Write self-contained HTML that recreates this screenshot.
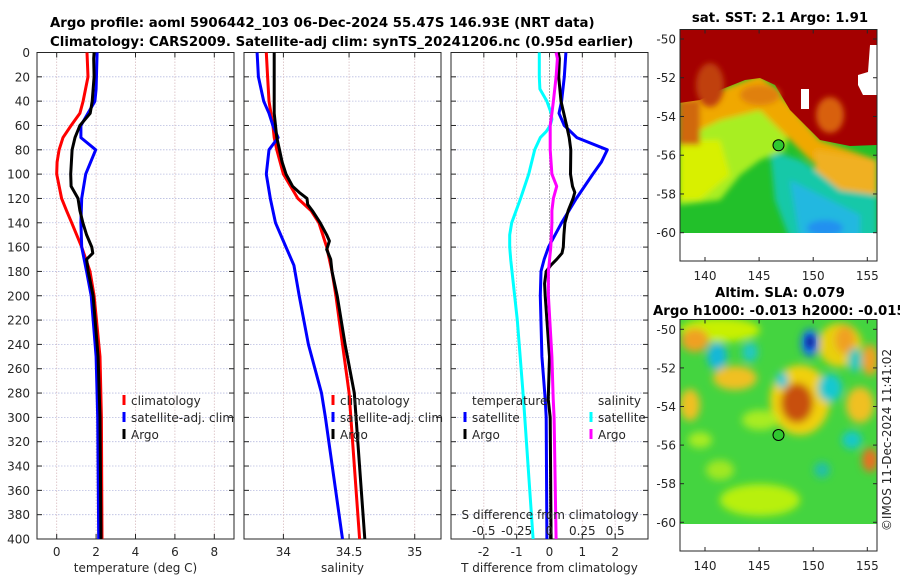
<!DOCTYPE html>
<html><head><meta charset="utf-8">
<style>
html,body{margin:0;padding:0;background:#fff;}
svg{display:block;font-family:"DejaVu Sans","Liberation Sans",sans-serif;}
.tk{font-size:12px;fill:#262626;}
.tt{font-size:13.3px;font-weight:bold;fill:#000;}
</style></head>
<body>
<svg id="fig" width="900" height="580" viewBox="0 0 900 580" xmlns="http://www.w3.org/2000/svg">
<defs>
<filter id="blur3" x="-20%" y="-20%" width="140%" height="140%"><feGaussianBlur stdDeviation="3"/></filter>
<filter id="blur6" x="-50%" y="-50%" width="200%" height="200%"><feGaussianBlur stdDeviation="4"/></filter>
<clipPath id="clipTop"><rect x="680" y="29" width="197" height="204"/></clipPath>
<clipPath id="clipBot"><rect x="680" y="319" width="197" height="205"/></clipPath>
<clipPath id="cp1"><rect x="37" y="52" width="197" height="487"/></clipPath>
<clipPath id="cp2"><rect x="244" y="52" width="197" height="487"/></clipPath>
<clipPath id="cp3"><rect x="451" y="52" width="197" height="487"/></clipPath>
</defs>
<text class="tt" x="50" y="27">Argo profile: aoml 5906442_103 06-Dec-2024 55.47S 146.93E (NRT data)</text>
<text class="tt" x="50" y="46">Climatology: CARS2009. Satellite-adj clim: synTS_20241206.nc (0.95d earlier)</text>

<!-- SST map -->
<g>
<g clip-path="url(#clipTop)">
<rect x="680" y="29" width="197" height="204" fill="#22c02a"/>
<g filter="url(#blur3)">
<polygon points="770,150 800,160 840,185 877,195 877,240 790,240 775,200" fill="#18c8a8"/>
<polygon points="790,180 830,200 860,215 860,240 800,240" fill="#20b8e0"/>
<ellipse cx="825" cy="228" rx="18" ry="8" fill="#2090f0"/>
<polygon points="679,95 760,85 790,120 785,150 760,160 740,175 720,200 679,205" fill="#a8ee20"/>
<polygon points="679,140 720,140 730,175 700,200 679,200" fill="#d8f000"/>
<polygon points="679,100 720,90 760,75 790,105 820,140 877,160 877,180 840,180 810,160 790,140 760,110 720,120 679,140" fill="#f0a800"/>
<polygon points="679,100 700,100 700,145 679,145" fill="#d06808"/>
<polygon points="815,150 877,160 877,195 840,190 815,170" fill="#f0b020"/>
</g>
<polygon points="679,29 877,29 877,145 850,146 820,140 805,125 790,110 775,85 760,78 745,80 720,90 700,100 679,103" fill="#a40000"/>
<g filter="url(#blur3)">
<ellipse cx="710" cy="85" rx="14" ry="22" fill="#c04010"/>
<ellipse cx="830" cy="115" rx="14" ry="18" fill="#d86010"/>
<ellipse cx="760" cy="95" rx="20" ry="10" fill="#e08010"/>
</g>
<polygon points="858,75 868,72 870,45 877,45 877,95 863,95 858,85" fill="#fff"/>
<rect x="801" y="89" width="8" height="20" fill="#fff"/>
</g>
<rect x="680" y="233" width="197" height="28" fill="#fff"/>
<rect x="680" y="29.5" width="197" height="231.5" fill="none" stroke="#262626" stroke-width="1"/>
<circle cx="778.5" cy="145.3" r="5.5" fill="#2fc82f" stroke="#000" stroke-width="1"/>
<text class="tt" x="780" y="22" text-anchor="middle">sat. SST: 2.1 Argo: 1.91</text>
</g>

<!-- SLA map -->
<g>
<g clip-path="url(#clipBot)">
<rect x="680" y="319" width="197" height="205" fill="#44d440"/>
<g filter="url(#blur6)">
<ellipse cx="720" cy="330" rx="40" ry="12" fill="#c8f000"/>
<ellipse cx="695" cy="340" rx="14" ry="12" fill="#f0a020"/>
<ellipse cx="840" cy="345" rx="22" ry="22" fill="#e8d010"/>
<ellipse cx="845" cy="340" rx="10" ry="14" fill="#f0a020"/>
<ellipse cx="870" cy="360" rx="8" ry="16" fill="#f0a020"/>
<ellipse cx="800" cy="400" rx="30" ry="35" fill="#f0d010"/>
<ellipse cx="797" cy="403" rx="16" ry="20" fill="#c85010"/>
<ellipse cx="735" cy="378" rx="22" ry="12" fill="#f0c020"/>
<ellipse cx="690" cy="405" rx="10" ry="16" fill="#f0c020"/>
<ellipse cx="860" cy="405" rx="14" ry="18" fill="#f0c020"/>
<ellipse cx="870" cy="460" rx="8" ry="12" fill="#e87020"/>
<ellipse cx="760" cy="500" rx="40" ry="16" fill="#b8f010"/>
<ellipse cx="720" cy="470" rx="14" ry="10" fill="#a0e820"/>
<ellipse cx="760" cy="420" rx="18" ry="10" fill="#a8ec20"/>
<ellipse cx="700" cy="440" rx="12" ry="8" fill="#a8ec20"/>
<ellipse cx="717" cy="356" rx="10" ry="14" fill="#18b8d8"/>
<ellipse cx="750" cy="352" rx="8" ry="10" fill="#20c8c0"/>
<ellipse cx="782" cy="380" rx="6" ry="8" fill="#20c8d8"/>
<ellipse cx="830" cy="388" rx="12" ry="14" fill="#18c8d0"/>
<ellipse cx="855" cy="360" rx="7" ry="12" fill="#20c8c0"/>
<ellipse cx="852" cy="440" rx="10" ry="9" fill="#18c8c8"/>
<ellipse cx="822" cy="470" rx="8" ry="8" fill="#20c0a8"/>
<ellipse cx="810" cy="343" rx="9" ry="14" fill="#1870e0"/>
</g>
<ellipse cx="810" cy="342" rx="4" ry="6" fill="#0828a0" filter="url(#blur3)"/>
</g>
<rect x="680" y="524" width="197" height="27" fill="#fff"/>
<rect x="680" y="319.5" width="197" height="231.5" fill="none" stroke="#262626" stroke-width="1"/>
<circle cx="778.5" cy="435" r="5.5" fill="#2fc82f" stroke="#000" stroke-width="1"/>
<text class="tt" x="780" y="297" text-anchor="middle">Altim. SLA: 0.079</text>
<text class="tt" x="653" y="315">Argo h1000: -0.013 h2000: -0.015</text>
</g>
<text x="891" y="440" font-size="12" fill="#262626" text-anchor="middle" transform="rotate(-90 891 440)">©IMOS 11-Dec-2024 11:41:02</text>

<g id="panels"></g>
</svg>
<script>
// ---- Temperature panel data ----
const tClimDepth = [0,20,40,50,60,70,80,90,100,120,130,140,160,180,200,250,300,400];
const tClim = [1.54,1.59,1.34,1.18,0.73,0.32,0.12,0.02,0,0.25,0.5,0.76,1.27,1.69,1.9,2.2,2.27,2.3];
const tArgoDepth = [0,5,20,40,50,60,70,80,100,110,120,130,140,150,160,165,170,180,200,250,300,400];
const tArgo = [1.9,1.88,1.9,1.8,1.7,1.18,0.93,0.78,0.71,0.73,1.08,1.18,1.33,1.52,1.78,1.83,1.52,1.6,1.85,2.1,2.2,2.25];
const tSatDepth = [0,30,40,60,70,80,100,120,140,160,180,200,250,300,400];
const tSat = [2.05,2.0,1.94,1.23,1.23,1.98,1.47,1.27,1.23,1.27,1.52,1.75,2.0,2.08,2.13];
// ---- Salinity panel data ----
const sClimDepth = [0,20,40,60,70,80,100,120,130,140,160,180,200,240,280,400];
const sClim = [33.87,33.88,33.89,33.92,33.93,33.95,34.0,34.11,34.21,34.27,34.33,34.37,34.4,34.45,34.5,34.58];
const sArgoDepth = [0,5,40,50,60,70,80,90,100,110,115,120,125,130,140,150,155,162,170,180,200,240,280,400];
const sArgo = [33.93,33.93,33.93,33.93,33.94,33.95,33.97,33.99,34.02,34.07,34.12,34.18,34.185,34.22,34.28,34.33,34.35,34.33,34.36,34.37,34.41,34.47,34.54,34.62];
const sSatDepth = [0,20,40,50,60,70,80,100,120,140,160,175,200,240,280,300,400];
const sSat = [33.8,33.81,33.85,33.89,33.92,33.96,33.89,33.87,33.9,33.94,34.02,34.08,34.12,34.19,34.29,34.32,34.45];
// ---- Difference panel data ----
const dtSatDepth = [0,20,40,50,60,70,80,90,100,120,140,160,170,180,200,250,285,300,400];
const dtSat = [0.5,0.45,0.37,0.29,0.45,0.83,1.76,1.58,1.32,0.82,0.37,-0.03,-0.16,-0.26,-0.28,-0.23,-0.13,-0.1,-0.08];
const dtArgoDepth = [0,5,20,40,60,70,80,100,110,115,120,130,140,150,160,165,170,175,180,190,200,250,285,300,400];
const dtArgo = [0.27,0.3,0.28,0.35,0.52,0.6,0.65,0.64,0.7,0.77,0.72,0.57,0.47,0.44,0.42,0.38,0.22,0.04,-0.1,-0.15,-0.13,0,-0.04,0.02,0.05];
const dsSatDepth = [0,20,30,40,50,55,60,65,70,80,100,120,140,150,160,171,220,285,400];
const dsSat = [-0.078,-0.078,-0.073,-0.02,0.013,0.018,0.005,-0.025,-0.07,-0.113,-0.158,-0.22,-0.288,-0.303,-0.303,-0.295,-0.245,-0.198,-0.125];
const dsArgoDepth = [0,5,20,40,50,60,80,100,110,120,130,140,160,180,200,250,285,300,400];
const dsArgo = [0.05,0.06,0.05,0.03,0.018,0.005,0.005,0.018,0.055,0.03,0.018,0.018,0.01,-0.008,-0.008,0.018,0.028,0.035,0.05];
// ---- Axis ticks ----
const depthTicks = [0,20,40,60,80,100,120,140,160,180,200,220,240,260,280,300,320,340,360,380,400];
const tTicks = [0,2,4,6,8];
const sTicks = [34,34.5,35];
const sTickLabels = ["34","34.5","35"];
const dTicks = [-2,-1,0,1,2];
const dsTicks = [-0.5,-0.25,0,0.25,0.5];
const dsTickLabels = ["-0.5","-0.25","0","0.25","0.5"];

const NS = "http://www.w3.org/2000/svg";
const root = document.getElementById('panels');
const Y0 = 52.5, Y1 = 539;
function yD(d){ return Y0 + d/400*(Y1-Y0); }
function mk(tag, attrs, parent){ const e=document.createElementNS(NS,tag); for(const k in attrs) e.setAttribute(k,attrs[k]); (parent||root).appendChild(e); return e; }

const panels = [
  {x0:37, x1:234, lo:-1, hi:9, name:'temperature-panel', clip:'cp1'},
  {x0:244, x1:441, lo:33.7, hi:35.2, name:'salinity-panel', clip:'cp2'},
  {x0:451, x1:648, lo:-3, hi:3, name:'difference-panel', clip:'cp3'}
];
function xf(p){ return v => p.x0 + (v-p.lo)/(p.hi-p.lo)*(p.x1-p.x0); }

panels.forEach((p,i)=>{
  const g = mk('g',{});
  
  
  p.g = g;
  const X = xf(p);
  const ticks = i===0? tTicks : i===1? sTicks : dTicks;
  depthTicks.forEach(d=>{
    if(d>0 && d<400) mk('line',{x1:p.x0,x2:p.x1,y1:yD(d),y2:yD(d),stroke:'#b8bce0','stroke-width':0.8,'stroke-dasharray':'1.5,1.5'},g);
    mk('line',{x1:p.x0,x2:p.x0+5,y1:yD(d),y2:yD(d),stroke:'#262626'},g);
    mk('line',{x1:p.x1-5,x2:p.x1,y1:yD(d),y2:yD(d),stroke:'#262626'},g);
  });
  ticks.forEach((t,j)=>{
    const x=X(t);
    if(!(i===2 && t===0)) mk('line',{x1:x,x2:x,y1:Y0,y2:Y1,stroke:'#d8bcc0','stroke-width':0.8,'stroke-dasharray':'1.5,1.5'},g);
    mk('line',{x1:x,x2:x,y1:Y1,y2:Y1-5,stroke:'#262626'},g);
    mk('line',{x1:x,x2:x,y1:Y0,y2:Y0+5,stroke:'#262626'},g);
    const lb = mk('text',{x:x,y:556,'text-anchor':'middle','class':'tk'},g);
    
    
    lb.textContent = i===1? sTickLabels[j] : String(t);
  });
  mk('rect',{x:p.x0,y:Y0,width:p.x1-p.x0,height:Y1-Y0,fill:'none',stroke:'#262626','stroke-width':1},g);
});
depthTicks.forEach(d=>{
  const t = mk('text',{x:30,y:yD(d)+4.5,'text-anchor':'end','class':'tk'});
  
  
  t.textContent = d;
});
const zx = xf(panels[2])(0);
mk('line',{x1:zx,x2:zx,y1:Y0,y2:Y1,stroke:'#555','stroke-width':1,'stroke-dasharray':'1,2'},panels[2].g);

function line(p, depths, vals, color, name, scale){
  const X = xf(p);
  const pts = depths.map((d,k)=> X(vals[k]*(scale||1)).toFixed(1)+','+yD(d).toFixed(1)).join(' ');
  const pl = mk('polyline',{points:pts,fill:'none',stroke:color,'stroke-width':3,'stroke-linejoin':'round','clip-path':'url(#'+p.clip+')'},p.g);
  
  
}
line(panels[0], tClimDepth, tClim, '#ff0000', 'temperature-climatology-line');
line(panels[0], tSatDepth, tSat, '#0000ff', 'temperature-satellite-line');
line(panels[0], tArgoDepth, tArgo, '#000000', 'temperature-argo-line');
line(panels[1], sClimDepth, sClim, '#ff0000', 'salinity-climatology-line');
line(panels[1], sSatDepth, sSat, '#0000ff', 'salinity-satellite-line');
line(panels[1], sArgoDepth, sArgo, '#000000', 'salinity-argo-line');
line(panels[2], dsSatDepth, dsSat, '#00ffff', 'salinity-diff-satellite-line', 4);
line(panels[2], dtSatDepth, dtSat, '#0000ff', 'temperature-diff-satellite-line');
line(panels[2], dtArgoDepth, dtArgo, '#000000', 'temperature-diff-argo-line');
line(panels[2], dsArgoDepth, dsArgo, '#ff00ff', 'salinity-diff-argo-line', 4);

const Xd = xf(panels[2]);
dsTicks.forEach((s,j)=>{
  const t = mk('text',{x:Xd(s*4),y:535,'text-anchor':'middle','class':'tk'});
  
  
  t.textContent = dsTickLabels[j];
});
function txt(x,y,s,name,anchor){
  const t = mk('text',{x:x,y:y,'class':'tk','text-anchor':anchor||'start'});
  
  
  t.textContent = s; return t;
}
txt(550,519,'S difference from climatology','s-diff-axis-title','middle');
txt(135.5,572,'temperature (deg C)','x-axis-title-temperature','middle');
txt(342.5,572,'salinity','x-axis-title-salinity','middle');
txt(549.5,572,'T difference from climatology','x-axis-title-difference','middle');

function legend(x,y,color,label,name){
  const g = mk('g',{});
  
  
  mk('line',{x1:x,x2:x,y1:y-10,y2:y,stroke:color,'stroke-width':3},g);
  const t = mk('text',{x:x+7,y:y,'class':'tk'},g);
  t.textContent = label;
}
legend(124,405,'#ff0000','climatology','legend-temp-climatology');
legend(124,422,'#0000ff','satellite-adj. clim','legend-temp-satellite');
legend(124,439,'#000000','Argo','legend-temp-argo');
legend(333,405,'#ff0000','climatology','legend-sal-climatology');
legend(333,422,'#0000ff','satellite-adj. clim','legend-sal-satellite');
legend(333,439,'#000000','Argo','legend-sal-argo');
txt(472,405,'temperature','legend-temperature-header');
legend(465,422,'#0000ff','satellite','legend-diff-t-satellite');
legend(465,439,'#000000','Argo','legend-diff-t-argo');
txt(598,405,'salinity','legend-salinity-header');
legend(591,422,'#00ffff','satellite','legend-diff-s-satellite');
legend(591,439,'#ff00ff','Argo','legend-diff-s-argo');

const lats = [-50,-52,-54,-56,-58,-60];
const lons = [140,145,150,155];
function mapAxes(yTop, yM50, yM60, yBot, lonY){
  lats.forEach(l=>{
    const y = yM50 + (l+50)/(-10)*(yM60-yM50);
    mk('line',{x1:680,x2:684,y1:y,y2:y,stroke:'#262626'});
    mk('line',{x1:873,x2:877,y1:y,y2:y,stroke:'#262626'});
    txt(676,y+4.5,String(l),'map-lat-label','end');
  });
  lons.forEach(l=>{
    const x = 705 + (l-140)*10.82;
    mk('line',{x1:x,x2:x,y1:yBot,y2:yBot-4,stroke:'#262626'});
    mk('line',{x1:x,x2:x,y1:yTop,y2:yTop+4,stroke:'#262626'});
    txt(x,lonY,String(l),'map-lon-label','middle');
  });
}
mapAxes(29.5,39,232.7,261,280);
mapAxes(319.5,329.3,522.3,551,570);
</script>
</body></html>
